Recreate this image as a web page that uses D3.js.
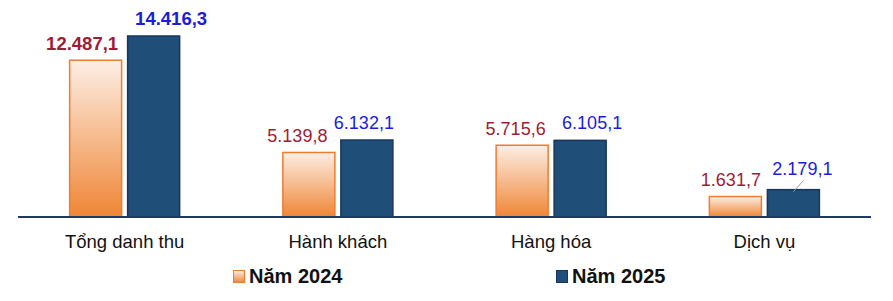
<!DOCTYPE html>
<html><head><meta charset="utf-8">
<script src="https://cdn.jsdelivr.net/npm/d3@7"></script>
<style>body{margin:0;background:#fff}svg{display:block;font-family:"Liberation Sans",Arial,sans-serif}</style>
</head><body><svg id="c" width="893" height="301"></svg>
<script>
const categories = ["Tổng danh thu", "Hành khách", "Hàng hóa", "Dịch vụ"];
const seriesNames = ["Năm 2024", "Năm 2025"];
const values2024 = [12487.1, 5139.8, 5715.6, 1631.7];
const values2025 = [14416.3, 6132.1, 6105.1, 2179.1];
const valueLabels2024 = ["12.487,1", "5.139,8", "5.715,6", "1.631,7"];
const valueLabels2025 = ["14.416,3", "6.132,1", "6.105,1", "2.179,1"];

const svg = d3.select("#c");
const defs = svg.append("defs");
const g1 = defs.append("linearGradient").attr("id","og").attr("x1",0).attr("y1",0).attr("x2",0).attr("y2",1);
g1.append("stop").attr("offset","0%").attr("stop-color","#fdeee4");
g1.append("stop").attr("offset","100%").attr("stop-color","#ef8636");

const baseY = 217;
const x0 = d3.scaleBand().domain(categories).range([18, 871]);
const y = d3.scaleLinear().domain([0, 14416.3]).range([baseY, 36]);
const barW = 53, gap = 5;

// label nudges (as placed in the original chart)
const dx24 = [-13.5, -11.5, -6.5, -4.5];
const dx25 = [17.5, -3, 12, 9];

const data = categories.map((c,i)=>({c, v:[values2024[i], values2025[i]], l:[valueLabels2024[i], valueLabels2025[i]]}));

data.forEach((d,i)=>{
  const cx = x0(d.c) + x0.bandwidth()/2;
  const xa = cx - gap/2 - barW;
  svg.append("rect").attr("x", xa+0.5).attr("y", y(d.v[0])).attr("width", barW-1).attr("height", baseY - y(d.v[0]))
    .attr("fill","url(#og)").attr("stroke","#ed7d31").attr("stroke-width",1.5);
  const xb = cx + gap/2;
  svg.append("rect").attr("x", xb+0.5).attr("y", y(d.v[1])).attr("width", barW-1).attr("height", baseY - y(d.v[1]))
    .attr("fill","#1f4e79").attr("stroke","#16365c").attr("stroke-width",1.5);
  const bold = i===0 ? "bold" : "normal";
  svg.append("text").attr("x", xa + barW/2 + dx24[i]).attr("y", y(d.v[0]) - 10.5).attr("text-anchor","middle")
    .attr("font-size", i===0?18.5:18).attr("font-weight", bold).attr("fill","#a01c34").text(d.l[0]);
  let ly = y(d.v[1]) - 11;
  if (i===3) {
    ly = y(d.v[1]) - 15;
    svg.append("line").attr("x1", xb+barW/2).attr("y1", y(d.v[1])+2).attr("x2", xb+barW/2+10).attr("y2", y(d.v[1])-9)
      .attr("stroke","#999").attr("stroke-width",1);
  }
  svg.append("text").attr("x", xb + barW/2 + dx25[i]).attr("y", ly).attr("text-anchor","middle")
    .attr("font-size", i===0?18.5:18).attr("font-weight", bold).attr("fill","#1c1cdc").text(d.l[1]);
  svg.append("text").attr("x", cx).attr("y", 248).attr("text-anchor","middle").attr("font-size",18.5).attr("fill","#111").text(d.c);
});

svg.append("line").attr("x1",18).attr("x2",871).attr("y1",baseY).attr("y2",baseY).attr("stroke","#1f3864").attr("stroke-width",2);

const leg = [{x:233, fill:"url(#og)", stroke:"#ed7d31"}, {x:556, fill:"#1f4e79", stroke:"#16365c"}];
leg.forEach((L,i)=>{
  svg.append("rect").attr("x",L.x+0.5).attr("y",270.5).attr("width",11).attr("height",12).attr("fill",L.fill).attr("stroke",L.stroke).attr("stroke-width",1);
  svg.append("text").attr("x",L.x+16).attr("y",283).attr("font-size",20).attr("font-weight","bold").attr("fill","#111").text(seriesNames[i]);
});
</script></body></html>
